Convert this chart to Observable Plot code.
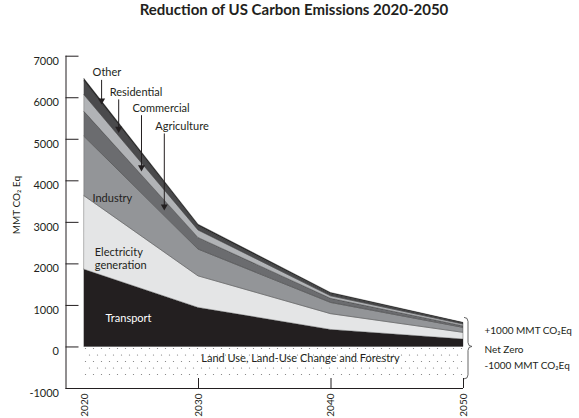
<!DOCTYPE html>
<html><head><meta charset="utf-8">
<script src="https://cdn.jsdelivr.net/npm/d3@7"></script>
<script src="https://cdn.jsdelivr.net/npm/@observablehq/plot@0.6"></script>
<style>
body{margin:0;background:#fff;}
#title{height:40px;line-height:40px;font:bold 15px Lato, sans-serif;text-align:center;color:#231f20;padding-left:9px;width:570px}
</style></head><body>
<div id="title">Reduction of US Carbon Emissions 2020-2050</div>
<div id="chart"></div>
<script>
// ---- data ----
const years = [2020, 2030, 2040, 2050];
const sectors = ["Transport", "Electricity generation", "Industry", "Agriculture", "Commercial", "Residential", "Other"];
const transport   = [1860, 940, 410, 180];
const electricity = [1770, 760, 380, 160];
const industry    = [1430, 645, 270, 120];
const agriculture = [600, 280, 100, 40];
const commercial  = [400, 180, 60, 40];
const residential = [330, 100, 55, 25];
const other       = [60, 40, 25, 15];
const landUse     = [-760, -760, -760, -760];
const yTicks = [-1000, 0, 1000, 2000, 3000, 4000, 5000, 6000, 7000];
const xTicks = [2020, 2030, 2040, 2050];
const xInnerTicks = [2030, 2040, 2050];
const sectorColors = ["#231f20", "#e4e5e6", "#939598", "#6b6c6f", "#b1b3b6", "#4a4a4c", "#262626"];

// callouts (arrow labels)
const calloutNames = ["Other", "Residential", "Commercial", "Agriculture"];
const calloutYears = [2021.5, 2023, 2025, 2027];
const calloutLabelAt = [6600, 6130, 5750, 5310];

// the original's first decade is drawn narrower than the others
const warp = y => y >= 2030 ? y : 2030 - (2030 - y) * 0.8604;
const xStart = 2020;

// ---- derived tables ----
const series = [transport, electricity, industry, agriculture, commercial, residential, other];
const emissions = sectors.flatMap((s, i) => years.map((y, j) => ({year: y, sector: s, value: series[i][j]})));
const landData = years.map((y, j) => ({year: y, value: landUse[j]}));

function interp(arr, yr) {
  for (let j = 0; j < years.length - 1; j++) {
    if (yr <= years[j + 1]) {
      const t = (yr - years[j]) / (years[j + 1] - years[j]);
      return arr[j] + (arr[j + 1] - arr[j]) * t;
    }
  }
  return arr[arr.length - 1];
}
function bandMid(name, yr) {
  const k = sectors.indexOf(name);
  let base = 0;
  for (let i = 0; i < k; i++) base += interp(series[i], yr);
  return base + interp(series[k], yr) / 2;
}
const callouts = calloutNames.map((n, i) => ({name: n, year: calloutYears[i], label: calloutLabelAt[i], tip: bandMid(n, calloutYears[i])}));

const innerLabels = [
  {text: "Industry", year: 2020.7, value: 3580, fill: "#231f20"},
  {text: "Electricity\ngeneration", year: 2020.9, value: 2130, fill: "#231f20"},
  {text: "Transport", year: 2021.85, value: 690, fill: "#ffffff"}
];
const sideLabels = [
  {text: "+1000 MMT CO₂Eq", value: 380},
  {text: "Net Zero", value: -60},
  {text: "-1000 MMT CO₂Eq", value: -450}
];
const landLabel = [{text: "Land Use, Land-Use Change and Forestry", year: 2037.7, value: -270}];
const braceTop = 700, braceBottom = -780;

const tickLabel = new Map(xTicks.map(t => [warp(t), String(t)]));

function braceMark(index, scales) {
  const x0 = scales.x(warp(2050)) + 1;
  const yT = scales.y(braceTop), yM = scales.y(0), yB = scales.y(braceBottom);
  const s = 4;
  const d = `M${x0},${yT} Q${x0 + s},${yT} ${x0 + s},${yT + s} L${x0 + s},${yM - s} Q${x0 + s},${yM} ${x0 + 2 * s},${yM} Q${x0 + s},${yM} ${x0 + s},${yM + s} L${x0 + s},${yB - s} Q${x0 + s},${yB} ${x0},${yB}`;
  const g = d3.create("svg:g");
  g.append("path").attr("d", d).attr("fill", "none").attr("stroke", "#555").attr("stroke-width", 0.9);
  return g.node();
}

const svg = Plot.plot({
  width: 579,
  height: 378,
  marginLeft: 65.5,
  marginRight: 116,
  marginTop: 15.7,
  marginBottom: 30,
  style: {fontFamily: "Lato, sans-serif", fontSize: "11px", color: "#231f20", background: "#fff"},
  x: {domain: [xStart, years[years.length - 1]]},
  y: {domain: [yTicks[0], yTicks[yTicks.length - 1]]},
  color: {domain: sectors, range: sectorColors},
  marks: [
    Plot.areaY(landData, {x: d => warp(d.year), y1: 0, y2: "value", fill: "url(#dots)"}),
    Plot.areaY(emissions, {x: d => warp(d.year), y: "value", fill: "sector", stroke: "#2a2a2a", strokeWidth: 0.35}),
    Plot.ruleX([xStart], {stroke: "#231f20"}),
    Plot.ruleY([yTicks[0]], {stroke: "#231f20"}),
    Plot.axisY({ticks: yTicks, tickSize: 13, dx: 13, fill: "none", stroke: "#231f20", label: null}),
    Plot.axisY({ticks: yTicks, tickSize: 0, tickPadding: 7, stroke: "none", dy: 5, label: null, fontSize: 11, fill: "#231f20", tickFormat: d => String(d)}),
    Plot.axisX(xInnerTicks.map(warp), {tickSize: 10, dy: -10, fill: "none", stroke: "#231f20", label: null}),
    Plot.axisX(xTicks.map(warp), {tickSize: 0, tickPadding: 5, tickRotate: -90, stroke: "none", label: null, fontSize: 10, fill: "#231f20", tickFormat: v => tickLabel.get(v)}),
    Plot.text(["MMT CO₂ Eq"], {frameAnchor: "left", rotate: -90, dx: -49, dy: 12, text: d => d, fontSize: 10, fill: "#231f20"}),
    Plot.text(innerLabels, {x: d => warp(d.year), y: "value", text: "text", fill: "fill", textAnchor: "start", fontSize: 11, lineHeight: 1.15}),
    Plot.link(callouts, {x1: d => warp(d.year), x2: d => warp(d.year), y1: d => d.label - 170, y2: "tip", stroke: "#231f20", strokeWidth: 1}),
    Plot.dot(callouts, {x: d => warp(d.year), y: "tip", symbol: "triangle", r: 2.6, rotate: 180, fill: "#231f20", stroke: "none", dy: -1.5}),
    Plot.text(callouts, {x: d => warp(d.year), y: "label", text: "name", textAnchor: "start", dx: -9, fontSize: 11, fill: "#231f20"}),
    Plot.text(sideLabels, {x: () => warp(2050), y: "value", text: "text", textAnchor: "start", dx: 21, fontSize: 10, fill: "#231f20"}),
    Plot.text(landLabel, {x: d => warp(d.year), y: "value", text: "text", fontSize: 11, fill: "#231f20"}),
    braceMark
  ]
});

const defs = d3.select(svg).insert("defs", ":first-child");
const pat = defs.append("pattern").attr("id", "dots").attr("patternUnits", "userSpaceOnUse").attr("width", 8).attr("height", 13);
pat.append("rect").attr("width", 8).attr("height", 13).attr("fill", "#fff");
pat.append("circle").attr("cx", 1.5).attr("cy", 3).attr("r", 0.6).attr("fill", "#777");
pat.append("circle").attr("cx", 5.5).attr("cy", 9.5).attr("r", 0.6).attr("fill", "#777");

document.getElementById("chart").appendChild(svg);
</script>
</body></html>
